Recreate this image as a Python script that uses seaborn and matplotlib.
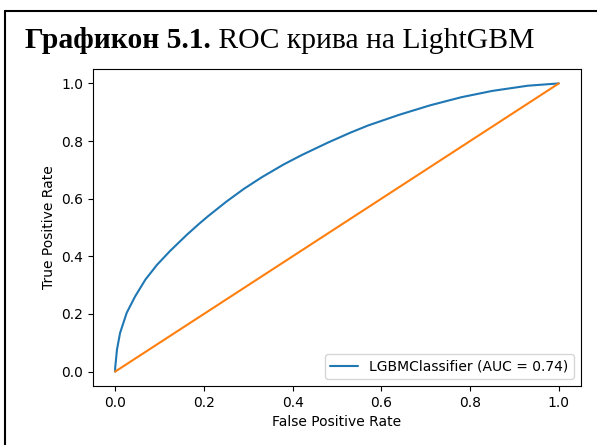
import matplotlib
matplotlib.use("Agg")
import matplotlib.pyplot as plt
import seaborn as sns
from matplotlib.lines import Line2D

# ROC curve
fpr = [0.0, 0.0, 0.004, 0.011, 0.026, 0.045, 0.068, 0.094, 0.124, 0.161,
       0.19, 0.21, 0.25, 0.29, 0.33, 0.38, 0.42, 0.48, 0.53, 0.57, 0.64,
       0.71, 0.78, 0.85, 0.93, 1.0]
tpr = [0.0, 0.013, 0.076, 0.134, 0.204, 0.261, 0.319, 0.370, 0.419, 0.474,
       0.514, 0.540, 0.589, 0.634, 0.674, 0.719, 0.751, 0.795, 0.829, 0.854,
       0.891, 0.924, 0.952, 0.974, 0.992, 1.0]
chance_x = [0.0, 1.0]
chance_y = [0.0, 1.0]
curve_label = "LGBMClassifier (AUC = 0.74)"
x_label = "False Positive Rate"
y_label = "True Positive Rate"
ticks = [0.0, 0.2, 0.4, 0.6, 0.8, 1.0]
title_bold = "Графикон 5.1."
title_rest = " ROC крива на LightGBM"

sns.set_style("ticks", {"axes.edgecolor": "black", "xtick.color": "black",
                        "ytick.color": "black", "text.color": "black",
                        "axes.labelcolor": "black"})
plt.rcParams['font.family'] = ['DejaVu Sans']
plt.rcParams.update({"xtick.major.size": 3.5, "ytick.major.size": 3.5,
                     "xtick.major.width": 0.8, "ytick.major.width": 0.8,
                     "axes.linewidth": 0.8, "font.size": 10,
                     "axes.labelsize": 10, "xtick.labelsize": 10,
                     "ytick.labelsize": 10, "legend.fontsize": 10})

W, H = 597, 445
fig = plt.figure(figsize=(W / 100, H / 100), dpi=100)
ax = fig.add_axes([93 / W, 1 - 386 / H, (581 - 93) / W, (386 - 69) / H])

sns.lineplot(x=fpr, y=tpr, ax=ax, color="#1f77b4", lw=1.5, label=curve_label,
             sort=False, estimator=None)
sns.lineplot(x=chance_x, y=chance_y, ax=ax, color="#ff7f0e", lw=1.5,
             sort=False, estimator=None)

ax.set_xlim(-0.05, 1.05)
ax.set_ylim(-0.05, 1.05)
ax.set_xticks(ticks)
ax.set_yticks(ticks)
ax.set_xticklabels([f"{t:.1f}" for t in ticks])
ax.set_yticklabels([f"{t:.1f}" for t in ticks])
ax.set_xlabel(x_label)
ax.set_ylabel(y_label)
ax.legend(loc="lower right", frameon=True, framealpha=0.8, fancybox=True,
          edgecolor="#cccccc")

# outer frame (left and top)
fig.add_artist(Line2D([5 / W, 5 / W], [0, 1 - 11 / H], color="black", lw=1.5,
                      transform=fig.transFigure))
fig.add_artist(Line2D([5 / W, 1], [1 - 11 / H, 1 - 11 / H], color="black", lw=1.5,
                      transform=fig.transFigure))

# title in two parts
t1 = fig.text(25 / W, 1 - 48 / H, title_bold, fontsize=21.3, fontweight="bold",
              family=["Liberation Serif"], va="baseline", ha="left")
renderer = fig.canvas.get_renderer()
bb = t1.get_window_extent(renderer=renderer)
fig.text(bb.x1 / W, 1 - 48 / H, title_rest, fontsize=21.3,
         family=["Liberation Serif"], va="baseline", ha="left")

fig.savefig("out.png", dpi=100)
